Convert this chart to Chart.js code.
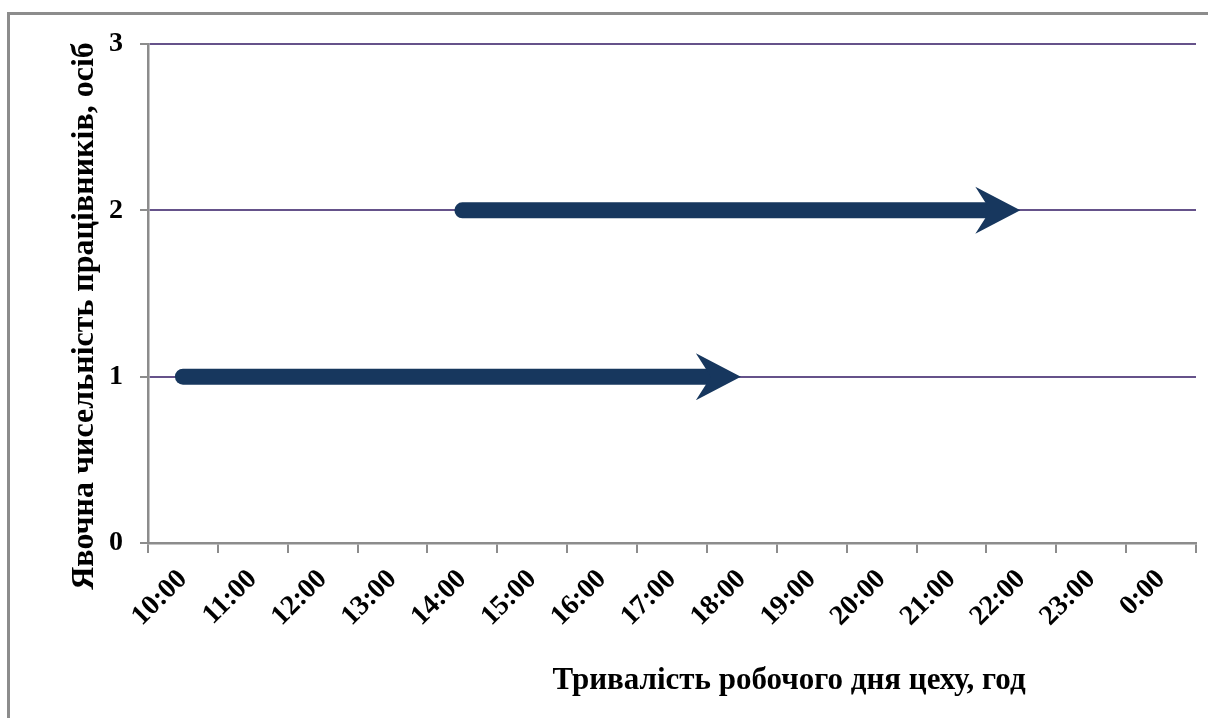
<!DOCTYPE html>
<html>
<head>
<meta charset="utf-8">
<script src="https://cdn.jsdelivr.net/npm/chart.js@4.4.1/dist/chart.umd.min.js"></script>
<style>
  html, body { margin: 0; padding: 0; background: #ffffff; }
  #wrap { width: 1208px; height: 718px; position: relative; }
</style>
</head>
<body>
<div id="wrap"><canvas id="c" width="1208" height="718"></canvas></div>
<script>
// ---- data ----
const categories = ['10:00','11:00','12:00','13:00','14:00','15:00','16:00','17:00','18:00','19:00','20:00','21:00','22:00','23:00','0:00'];
const worker1 = [1,1,1,1,1,1,1,1,1,null,null,null,null,null,null];
const worker2 = [null,null,null,null,2,2,2,2,2,2,2,2,2,null,null];
const yTicks = [0,1,2,3];
const xTitle = 'Тривалість робочого дня цеху, год';
const yTitle = 'Явочна чисельність працівників, осіб';

// ---- styles ----
const NAVY = '#17375e';
const PURPLE = '#65528a';
const GREY = '#8c8c8c';
const FONT = '"Liberation Serif", "Times New Roman", serif';

const arrowPlugin = {
  id: 'arrows',
  afterDatasetsDraw(chart) {
    const ctx = chart.ctx;
    chart.data.datasets.forEach((ds, i) => {
      const meta = chart.getDatasetMeta(i);
      const pts = meta.data.filter((p, j) => ds.data[j] !== null && ds.data[j] !== undefined);
      if (pts.length < 2) return;
      const a = pts[0], b = pts[pts.length - 1];
      const y = a.y;
      const half = 8;
      const tipX = b.x - 1;
      const notchX = tipX - 30;
      const backX = tipX - 45;
      const headH = 23.5;
      ctx.save();
      ctx.fillStyle = NAVY;
      ctx.beginPath();
      ctx.moveTo(notchX + 2, y - half);
      ctx.lineTo(a.x, y - half);
      ctx.arc(a.x, y, half, -Math.PI / 2, Math.PI / 2, true);
      ctx.lineTo(notchX + 2, y + half);
      ctx.closePath();
      ctx.fill();
      ctx.beginPath();
      ctx.moveTo(tipX, y);
      ctx.lineTo(backX, y - headH);
      ctx.lineTo(notchX, y);
      ctx.lineTo(backX, y + headH);
      ctx.closePath();
      ctx.fill();
      ctx.restore();
    });
  }
};

const decorPlugin = {
  id: 'decor',
  beforeDraw(chart) {
    const ctx = chart.ctx;
    ctx.save();
    ctx.fillStyle = '#ffffff';
    ctx.fillRect(0, 0, chart.width, chart.height);
    ctx.strokeStyle = GREY;
    ctx.lineWidth = 3;
    ctx.beginPath();
    ctx.moveTo(8.5, chart.height + 2);
    ctx.lineTo(8.5, 13.5);
    ctx.lineTo(chart.width + 2, 13.5);
    ctx.stroke();
    ctx.restore();
  },
  afterDraw(chart) {
    const ctx = chart.ctx;
    ctx.save();
    ctx.fillStyle = '#000000';
    ctx.font = 'bold 31px ' + FONT;
    ctx.textAlign = 'center';
    ctx.textBaseline = 'middle';
    ctx.fillText(xTitle, 789, 681);
    ctx.translate(85, 316);
    ctx.rotate(-Math.PI / 2);
    ctx.font = 'bold 32px ' + FONT;
    ctx.fillText(yTitle, 0, 0);
    ctx.restore();
  }
};

new Chart(document.getElementById('c'), {
  type: 'line',
  data: {
    labels: categories,
    datasets: [
      { label: 'Працівник 1', data: worker1, borderColor: 'rgba(0,0,0,0)', borderWidth: 0, pointRadius: 0, spanGaps: false },
      { label: 'Працівник 2', data: worker2, borderColor: 'rgba(0,0,0,0)', borderWidth: 0, pointRadius: 0, spanGaps: false }
    ]
  },
  options: {
    responsive: false,
    animation: false,
    events: [],
    layout: { padding: { left: 0, top: 44, right: 12, bottom: 0 } },
    plugins: { legend: { display: false }, tooltip: { enabled: false }, title: { display: false } },
    scales: {
      x: {
        type: 'category',
        offset: true,
        afterFit(scale) { scale.height = 175; },
        grid: {
          offset: true,
          drawOnChartArea: false,
          drawTicks: true,
          tickLength: 10,
          tickColor: GREY,
          color: GREY,
          lineWidth: 2
        },
        border: { display: true, color: GREY, width: 2.5 },
        ticks: {
          autoSkip: false,
          maxRotation: 45,
          minRotation: 45,
          padding: 10,
          color: '#000000',
          font: { family: FONT, size: 28, weight: 'bold' }
        },
        title: { display: false }
      },
      y: {
        min: 0,
        max: 3,
        afterFit(scale) { scale.width = 148; },
        afterBuildTicks(scale) { scale.ticks = yTicks.map(v => ({ value: v })); },
        grid: {
          color: (c) => (c.tick && c.tick.value === 0) ? 'rgba(0,0,0,0)' : PURPLE,
          lineWidth: 2,
          drawTicks: true,
          tickLength: 8,
          tickColor: GREY
        },
        border: { display: true, color: GREY, width: 2.5 },
        ticks: {
          padding: 17,
          color: '#000000',
          font: { family: FONT, size: 28, weight: 'bold' }
        },
        title: { display: false }
      }
    }
  },
  plugins: [decorPlugin, arrowPlugin]
});
</script>
</body>
</html>
